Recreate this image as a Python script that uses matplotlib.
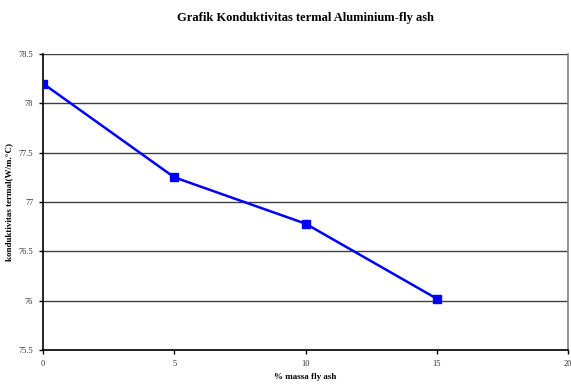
import matplotlib
matplotlib.use("Agg")
import matplotlib.pyplot as plt

plt.rcParams['font.family'] = ['Liberation Serif', 'DejaVu Serif']

# data
massa = [0, 5, 10, 15]
konduktivitas = [78.2, 77.25, 76.78, 76.02]
xticks = [0, 5, 10, 15, 20]
yticks = [75.5, 76, 76.5, 77, 77.5, 78, 78.5]

fig = plt.figure(figsize=(5.71, 3.88), dpi=100)
ax = fig.add_axes([0.0753, 0.098, 0.9195, 0.763])

ax.plot(massa, konduktivitas, color='#0000ff', linewidth=1.8,
        marker='s', markersize=5.5, zorder=3)

ax.set_xlim(0, 20)
ax.set_ylim(75.5, 78.5)
ax.set_xticks(xticks)
ax.set_yticks(yticks)
ax.set_xticklabels([str(t) for t in xticks])
ax.set_yticklabels(['75.5', '76', '76.5', '77', '77.5', '78', '78.5'])
ax.yaxis.grid(True, color='#404040', linewidth=1.0)
ax.set_axisbelow(True)

ax.spines['top'].set_visible(False)
ax.spines['right'].set_color('#808080')
ax.spines['right'].set_linewidth(1.2)
ax.spines['left'].set_linewidth(1.2)
ax.spines['bottom'].set_linewidth(1.2)
ax.tick_params(axis='both', labelsize=6, length=3, width=1, direction='out',
               labelcolor='#333333', pad=4)

ax.set_xlabel('% massa fly ash', fontsize=6.5, fontweight='bold', labelpad=4)
ax.set_ylabel('konduktivitas termal(W/m.\u00b0C)', fontsize=6.5, fontweight='bold', labelpad=4)
fig.suptitle('Grafik Konduktivitas termal Aluminium-fly ash', fontsize=9,
             fontweight='bold', x=0.535, y=0.97)

fig.savefig('out.png', dpi=100)
